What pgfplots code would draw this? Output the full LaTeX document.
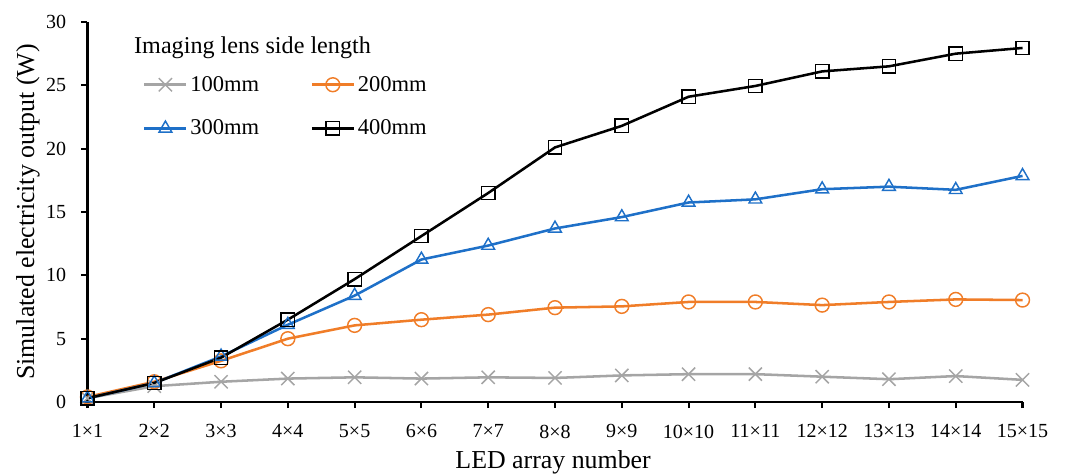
\documentclass[border=0pt]{standalone}
\usepackage{pgfplots}
\pgfplotsset{compat=1.18}
\usepackage{fontspec}
\setmainfont{Liberation Serif}
\definecolor{cgray}{RGB}{165,165,165}
\definecolor{corange}{RGB}{240,125,40}
\definecolor{cblue}{RGB}{30,112,200}
\begin{document}
\begin{tikzpicture}
\path[use as bounding box] (-65.6pt,-54pt) rectangle (734.6pt,301.5pt);
\begin{axis}[
  at={(0pt,0pt)}, anchor=origin,
  scale only axis, width=701.25pt, height=285pt,
  xmin=0, xmax=14, ymin=0, ymax=30,
  axis x line=bottom, axis y line=left,
  axis line style={line width=1.6pt, -},
  tick style={line width=1.6pt, black},
  tick align=outside, major tick length=4.5pt,
  xtick={0,...,14},
  xticklabels={1×1,2×2,3×3,4×4,5×5,6×6,7×7,8×8,9×9,10×10,11×11,12×12,13×13,14×14,15×15},
  ytick={0,5,...,30},
  /pgf/number format/assume math mode=true,
  ticklabel style={font=\fontsize{15}{18}\selectfont},
  xticklabel style={yshift=-9pt},
  yticklabel style={xshift=-8pt},
  xlabel={LED array number},
  ylabel={Simulated electricity output (W)},
  label style={font=\fontsize{19.4}{23}\selectfont},
  xlabel style={at={(axis description cs:0.498,-0.158)}, anchor=center},
  ylabel style={at={(axis description cs:-0.0636,0.5)}, anchor=center},
  clip=false,
  legend columns=2,
  legend cell align=left,
  legend style={at={(axis description cs:0.055,0.872)}, anchor=north west, draw=none, fill=none,
    font=\fontsize{16.9}{19}\selectfont, row sep=16pt,
    /tikz/every even column/.append style={column sep=36.5pt}},
  legend image code/.code={\draw[mark repeat=2,mark phase=2] plot coordinates {(0pt,0pt) (15.75pt,0pt) (31.5pt,0pt)};},
]
\addplot[cgray, line width=1.9pt, mark=x, mark size=7pt, mark options={line width=1.1pt}] coordinates {
(0,0.3) (1,1.25) (2,1.6) (3,1.85) (4,1.95) (5,1.85) (6,1.95) (7,1.9) (8,2.1) (9,2.2) (10,2.2) (11,2.0) (12,1.8) (13,2.05) (14,1.75)};
\addlegendentry{100mm}
\addplot[corange, line width=1.9pt, mark=o, mark size=5.2pt, mark options={line width=1.1pt}] coordinates {
(0,0.4) (1,1.6) (2,3.25) (3,5.0) (4,6.05) (5,6.5) (6,6.9) (7,7.45) (8,7.55) (9,7.9) (10,7.9) (11,7.65) (12,7.9) (13,8.1) (14,8.05)};
\addlegendentry{200mm}
\addplot[cblue, line width=1.9pt, mark=triangle, mark size=5.5pt, mark options={line width=1.1pt}] coordinates {
(0,0.3) (1,1.5) (2,3.6) (3,6.1) (4,8.4) (5,11.25) (6,12.35) (7,13.7) (8,14.6) (9,15.75) (10,16.0) (11,16.8) (12,17.0) (13,16.75) (14,17.85)};
\addlegendentry{300mm}
\addplot[black, line width=1.9pt, mark=square, mark size=5pt, mark options={line width=1.1pt}] coordinates {
(0,0.3) (1,1.5) (2,3.5) (3,6.5) (4,9.7) (5,13.1) (6,16.5) (7,20.1) (8,21.8) (9,24.1) (10,24.95) (11,26.1) (12,26.5) (13,27.5) (14,27.95)};
\addlegendentry{400mm}
\node[anchor=west, font=\fontsize{18.1}{21}\selectfont, inner sep=0pt] at (axis description cs:0.0497,0.931) {Imaging lens side length};
\end{axis}
\end{tikzpicture}
\end{document}
